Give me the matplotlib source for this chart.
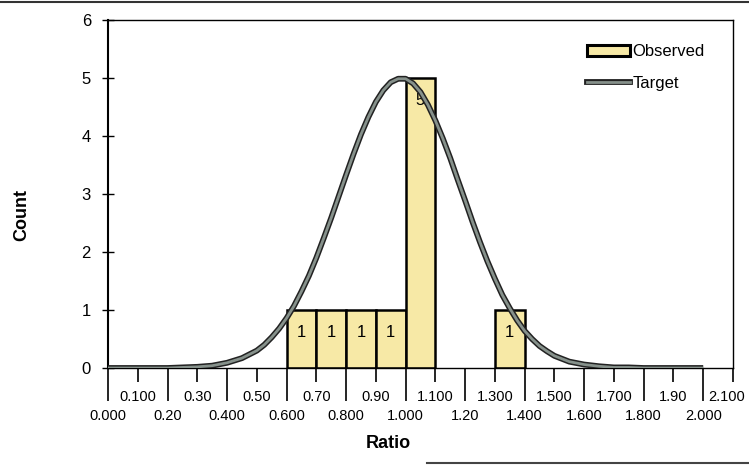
import matplotlib
matplotlib.use('Agg')
import matplotlib.pyplot as plt
import matplotlib.patheffects as pe
from matplotlib.patches import Patch
from matplotlib.lines import Line2D
from matplotlib.ticker import FixedLocator, FixedFormatter
from matplotlib.transforms import ScaledTranslation

plt.rcParams['font.family'] = ['Liberation Sans', 'DejaVu Sans']

# observed histogram (bin left edge, count)
bin_left = [0.6, 0.7, 0.8, 0.9, 1.0, 1.3]
counts = [1, 1, 1, 1, 5, 1]
bin_width = 0.1

# target curve
curve_x = [0.00, 0.05, 0.10, 0.15, 0.20, 0.25, 0.30, 0.35, 0.40, 0.45,
           0.500, 0.525, 0.550, 0.575, 0.600, 0.625, 0.650, 0.675,
           0.700, 0.725, 0.750, 0.775, 0.800, 0.825, 0.850, 0.875,
           0.900, 0.925, 0.950, 0.975, 1.000, 1.025, 1.050, 1.075,
           1.100, 1.125, 1.150, 1.175, 1.200, 1.225, 1.250, 1.275,
           1.300, 1.325, 1.350, 1.375, 1.400, 1.425, 1.450, 1.475,
           1.50, 1.55, 1.60, 1.65, 1.70, 1.75, 1.80, 1.85, 1.90, 1.95, 2.00]
curve_y = [0.00, 0.00, 0.00, 0.00, 0.00, 0.01, 0.02, 0.04, 0.09, 0.17,
           0.30, 0.40, 0.53, 0.68, 0.86, 1.07, 1.32, 1.59,
           1.90, 2.24, 2.59, 2.96, 3.33, 3.69, 4.03, 4.33,
           4.59, 4.79, 4.93, 4.99, 4.99, 4.91, 4.76, 4.54,
           4.27, 3.96, 3.62, 3.25, 2.89, 2.52, 2.17, 1.84,
           1.54, 1.26, 1.03, 0.82, 0.64, 0.50, 0.38, 0.29,
           0.21, 0.11, 0.06, 0.03, 0.01, 0.01, 0.00, 0.00, 0.00, 0.00, 0.00]

# x tick labels, as printed (alternating rows)
lower_ticks = [0.0, 0.2, 0.4, 0.6, 0.8, 1.0, 1.2, 1.4, 1.6, 1.8, 2.0]
lower_labels = ['0.000', '0.20', '0.400', '0.600', '0.800', '1.000',
                '1.20', '1.400', '1.600', '1.800', '2.000']
upper_ticks = [0.1, 0.3, 0.5, 0.7, 0.9, 1.1, 1.3, 1.5, 1.7, 1.9, 2.1]
upper_labels = ['0.100', '0.30', '0.50', '0.70', '0.90', '1.100',
                '1.300', '1.500', '1.700', '1.90', '2.100']
y_ticks = [0, 1, 2, 3, 4, 5, 6]

bar_color = '#f7e9a6'
curve_color = '#86918b'

fig = plt.figure(figsize=(7.49, 4.70), dpi=100)
ax = fig.add_axes([0.1442, 0.217, 0.8344, 0.740])

bars = ax.bar(bin_left, counts, width=bin_width, align='edge',
              facecolor=bar_color, edgecolor='black', linewidth=1.8, zorder=2)
for b, c in zip(bars, counts):
    ax.annotate(str(c), (b.get_x() + b.get_width() / 2, b.get_height()),
                xytext=(0, -11), textcoords='offset points',
                ha='center', va='top', fontsize=12, zorder=3)

stroke = [pe.withStroke(linewidth=4.2, foreground='#222222')]
ax.plot(curve_x, curve_y, color=curve_color, lw=2.0, zorder=4,
        path_effects=stroke, solid_capstyle='butt', solid_joinstyle='round')

ax.set_xlim(0, 2.1)
ax.set_ylim(0, 6)

ax.xaxis.set_major_locator(FixedLocator(lower_ticks))
ax.xaxis.set_major_formatter(FixedFormatter(lower_labels))
ax.xaxis.set_minor_locator(FixedLocator(upper_ticks))
ax.xaxis.set_minor_formatter(FixedFormatter(upper_labels))
ax.tick_params(axis='x', which='major', direction='out', length=24,
               width=1.2, pad=5.5, labelsize=10.5)
ax.tick_params(axis='x', which='minor', direction='out', length=10,
               width=1.2, pad=5.5, labelsize=10.5)

ax.set_yticks(y_ticks)
ax.tick_params(axis='y', direction='inout', length=8.5, width=1.0,
               pad=8, labelsize=12)

ax.spines['left'].set_linewidth(1.5)
ax.spines['bottom'].set_linewidth(1.0)
ax.spines['top'].set_linewidth(1.0)
ax.spines['right'].set_linewidth(1.0)

# last label sits a little left so it stays on the page
last = ax.xaxis.get_minorticklabels()[-1]
last.set_transform(last.get_transform() +
                   ScaledTranslation(-6 / 100, 0, fig.dpi_scale_trans))

fig.text(388 / 749, 1 - 443 / 470, 'Ratio', ha='center', va='center',
         fontsize=13, fontweight='bold')
fig.text(22 / 749, 1 - 215 / 470, 'Count', ha='center', va='center',
         rotation=90, fontsize=13, fontweight='bold')

handles = [
    Patch(facecolor=bar_color, edgecolor='black', linewidth=2.2),
    Line2D([0], [0], color=curve_color, lw=2.0, path_effects=stroke),
]
ax.legend(handles, ['Observed', 'Target'], loc='upper left',
          bbox_to_anchor=(0.766, 0.931), frameon=False, fontsize=12,
          handlelength=2.6, handleheight=0.6, handletextpad=0.15,
          labelspacing=0.99, borderpad=0, borderaxespad=0)

# scan edges
fig.add_artist(Line2D([0, 1], [1 - 2 / 470, 1 - 2 / 470],
                      transform=fig.transFigure, color='#333333', lw=1.5))
fig.add_artist(Line2D([427 / 749, 1], [1 - 463 / 470, 1 - 463 / 470],
                      transform=fig.transFigure, color='#444444', lw=1.5))

fig.savefig('out.png', dpi=100)
plt.close(fig)
